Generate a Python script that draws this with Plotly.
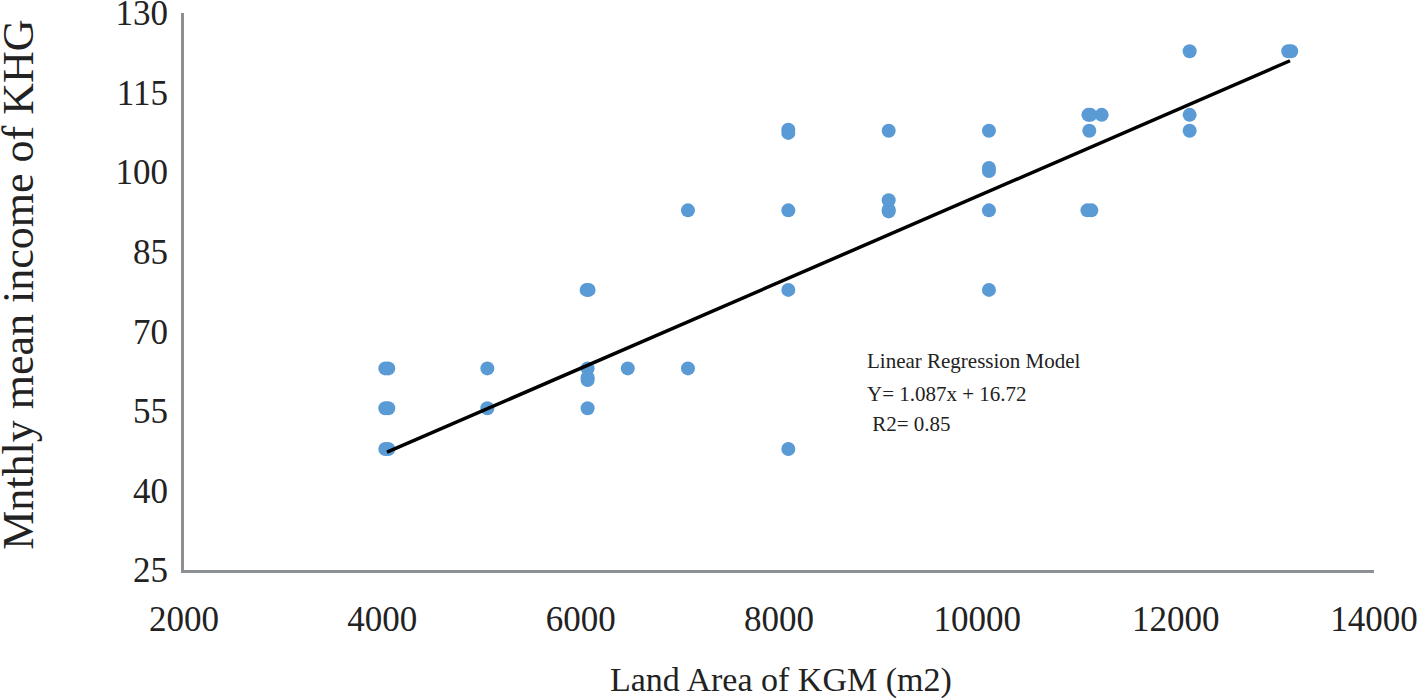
import plotly.graph_objects as go

# Observations (land area in m2, monthly mean income)
land_area = [4030, 4060, 4030, 4060, 4030, 4060,
             5059, 5059,
             6060, 6080, 6070, 6070, 6070, 6070,
             6475,
             7082, 7082,
             8094, 8094, 8094, 8094, 8094,
             9106, 9106, 9106, 9106,
             10117, 10117, 10117, 10117, 10117,
             11120, 11140, 11129, 11254, 11110, 11150,
             12141, 12141, 12141,
             13135, 13165]
income = [63, 63, 55.5, 55.5, 47.8, 47.8,
          63, 55.5,
          77.8, 77.8, 63, 61.3, 60.8, 55.5,
          63,
          92.8, 63,
          108, 107.4, 92.8, 77.8, 47.8,
          107.8, 94.7, 92.6, 92.9,
          107.8, 100.8, 100.2, 92.8, 77.8,
          110.8, 110.8, 107.8, 110.8, 92.8, 92.8,
          122.8, 110.8, 107.8,
          122.8, 122.8]

# Fitted regression line end points
fit_x = [4047, 13153]
fit_y = [47.2, 121.0]

x_ticks = [2000, 4000, 6000, 8000, 10000, 12000, 14000]
x_tick_labels = ["2000", "4000", "6000", "8000", "10000", "12000", "14000"]
y_ticks = [25, 40, 55, 70, 85, 100, 115, 130]
y_tick_labels = ["25", "40", "55", "70", "85", "100", "115", "130"]

x_title = "Land Area of KGM (m2)"
y_title = "Mnthly mean income of KHG"
model_lines = ["Linear Regression Model", "Y= 1.087x + 16.72", "\u00a0R2= 0.85"]

fig = go.Figure()
fig.add_trace(go.Scatter(x=land_area, y=income, mode="markers",
                         marker=dict(color="#5B9BD5", size=14, line=dict(width=0)),
                         showlegend=False, cliponaxis=False))
fig.add_trace(go.Scatter(x=fit_x, y=fit_y, mode="lines",
                         line=dict(color="black", width=3.5),
                         showlegend=False))

font_family = "Liberation Serif"
ann_y = [0.375, 0.316, 0.262]
annotations = [dict(text=t, xref="paper", yref="paper", x=0.572, y=yy,
                    xanchor="left", yanchor="middle", align="left", showarrow=False,
                    font=dict(size=21, family=font_family, color="#222222"))
               for t, yy in zip(model_lines, ann_y)]
annotations.append(dict(text=x_title, xref="paper", yref="paper", x=0.5017, y=-0.197,
                        xanchor="center", yanchor="middle", showarrow=False,
                        font=dict(size=34, family=font_family, color="#222222")))
annotations.append(dict(text=y_title, xref="paper", yref="paper", x=-0.1387, y=0.512,
                        xanchor="center", yanchor="middle", showarrow=False, textangle=-90,
                        font=dict(size=44, family=font_family, color="#222222")))

fig.update_layout(
    width=1418, height=698,
    paper_bgcolor="white", plot_bgcolor="white",
    margin=dict(l=184, r=44, t=13, b=128),
    font=dict(family=font_family, color="#222222"),
    xaxis=dict(range=[2000, 14000], tickmode="array", tickvals=x_ticks, ticktext=x_tick_labels,
               showgrid=False, zeroline=False, automargin=False,
               showline=True, linecolor="#8c8f94", linewidth=3,
               ticks="", ticklabelstandoff=16, ticklabeloverflow="allow",
               tickfont=dict(size=35, family=font_family)),
    yaxis=dict(range=[25, 130], tickmode="array", tickvals=y_ticks, ticktext=y_tick_labels,
               showgrid=False, zeroline=False, automargin=False,
               showline=True, linecolor="#8c8f94", linewidth=3,
               ticks="", ticklabelstandoff=6, ticklabeloverflow="allow",
               tickfont=dict(size=35, family=font_family)),
    annotations=annotations,
)

fig.write_html("out.html", config={"displayModeBar": False},
               post_script="document.body.style.margin='0';document.body.style.overflow='hidden';")
